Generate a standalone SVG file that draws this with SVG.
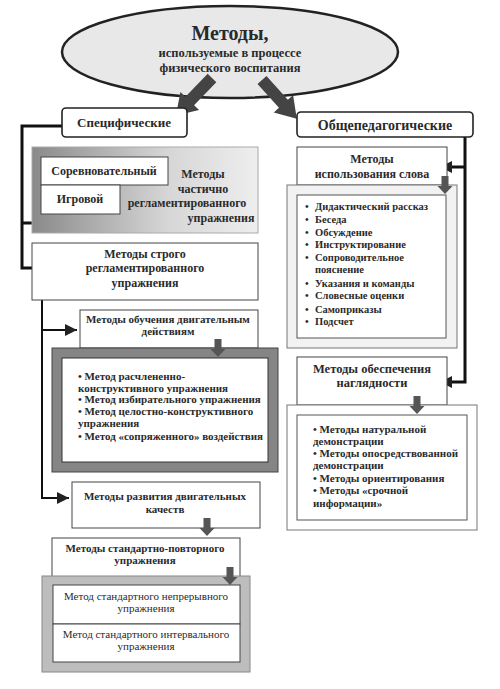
<svg xmlns="http://www.w3.org/2000/svg" width="500" height="689" viewBox="0 0 500 689">
<defs>
<style>
text{font-family:'Liberation Serif','DejaVu Serif',serif;font-weight:bold;fill:#2a2a2a}
.c{text-anchor:middle}
.n{font-weight:normal}
.box{fill:#fff;stroke:#444;stroke-width:1}
.rbox{fill:#fff;stroke:#222;stroke-width:1.6}
.line{fill:none;stroke:#111;stroke-width:3}
.big{fill:#444}
.small{fill:#555}
</style>
<linearGradient id="g1" x1="0" y1="0" x2="1" y2="0">
<stop offset="0" stop-color="#8a8a8a"/>
<stop offset="0.6" stop-color="#d6d6d6"/>
<stop offset="1" stop-color="#eeeeee"/>
</linearGradient>
<marker id="ah" viewBox="0 0 10 10" refX="10" refY="5" markerWidth="13" markerHeight="12" markerUnits="userSpaceOnUse" orient="auto">
<path d="M0,0 L10,5 L0,10 Z" fill="#222"/>
</marker>
<path id="bigArrow" d="M0,-6 L32,-6 L32,-13 L52,0 L32,13 L32,6 L0,6 Z"/>
<path id="downArrow" d="M-3.5,0 L3.5,0 L3.5,10 L7.5,10 L0,18 L-7.5,10 L-3.5,10 Z"/>
</defs>

<g id="connectors">
<polyline class="line" points="62,126 22,126 22,268 57,268" marker-end="url(#ah)"/>
<line class="line" x1="22" y1="223" x2="57" y2="223" marker-end="url(#ah)"/>
<polyline class="line" points="42,300 42,498 69,498" marker-end="url(#ah)" style="stroke-width:2"/>
<line class="line" x1="42" y1="330" x2="77" y2="330" marker-end="url(#ah)" style="stroke-width:2"/>
<polyline class="line" points="465,137 465,382 440,382" marker-end="url(#ah)"/>
<line class="line" x1="465" y1="167" x2="440" y2="167" marker-end="url(#ah)"/>
</g>

<g id="root">
<ellipse cx="230" cy="52" rx="168" ry="46" fill="#e8e8e8" stroke="#222" stroke-width="2.5"/>
<text class="c" x="230" y="40" font-size="20">Методы,</text>
<text class="c" x="230" y="57" font-size="12.5">используемые в процессе</text>
<text class="c" x="230" y="72" font-size="12.5">физического воспитания</text>
</g>

<g id="bigArrows">
<use href="#bigArrow" class="big" transform="translate(212,78) rotate(134)"/>
<use href="#bigArrow" class="big" transform="translate(262,80) rotate(48)"/>
</g>

<g id="specific">
<rect class="rbox" x="62" y="108" width="125" height="29" rx="4"/>
<text class="c" x="124" y="127" font-size="13">Специфические</text>
</g>

<g id="general">
<rect class="rbox" x="297" y="112" width="176" height="25" rx="4"/>
<text class="c" x="385" y="130" font-size="14">Общепедагогические</text>
</g>

<g id="partial">
<rect x="32" y="147" width="226" height="86" fill="url(#g1)" stroke="#aaa" stroke-width="1"/>
<rect class="box" x="41" y="157" width="127" height="28"/>
<text class="c" x="104" y="175" font-size="12">Соревновательный</text>
<rect class="box" x="41" y="185" width="79" height="29"/>
<text class="c" x="80" y="203" font-size="12">Игровой</text>
<text class="c" x="203" y="178" font-size="12">Методы</text>
<text class="c" x="203" y="193" font-size="12">частично</text>
<text class="c" x="187" y="207" font-size="12">регламентированного</text>
<text class="c" x="221" y="222" font-size="12">упражнения</text>
</g>

<g id="strict">
<rect class="box" x="32" y="243" width="226" height="57"/>
<text class="c" x="145" y="258" font-size="12">Методы строго</text>
<text class="c" x="145" y="272" font-size="12">регламентированного</text>
<text class="c" x="145" y="287" font-size="12">упражнения</text>
</g>

<g id="teaching">
<rect class="box" x="80" y="310" width="178" height="38"/>
<text class="c" x="168" y="323" font-size="11">Методы обучения двигательным</text>
<text class="c" x="168" y="335" font-size="11">действиям</text>
</g>

<g id="teachingList">
<rect x="52" y="348" width="226" height="124" fill="#858585" stroke="#444" stroke-width="1"/>
<rect x="62" y="358" width="206" height="104" fill="#fff" stroke="#333" stroke-width="1"/>
<text x="78" y="380" font-size="11">• Метод расчлененно-</text>
<text x="78" y="392" font-size="11">конструктивного упражнения</text>
<text x="78" y="403" font-size="11">• Метод избирательного упражнения</text>
<text x="78" y="415" font-size="11">• Метод целостно-конструктивного</text>
<text x="78" y="427" font-size="11">упражнения</text>
<text x="78" y="440" font-size="11">• Метод «сопряженного» воздействия</text>
</g>

<g id="qualities">
<rect class="box" x="72" y="482" width="188" height="46"/>
<text class="c" x="165" y="500" font-size="11">Методы развития двигательных</text>
<text class="c" x="165" y="513" font-size="11">качеств</text>
</g>

<g id="standard">
<rect class="box" x="52" y="538" width="188" height="39"/>
<text class="c" x="145" y="552" font-size="11">Методы стандартно-повторного</text>
<text class="c" x="145" y="564" font-size="11">упражнения</text>
</g>

<g id="standardList">
<rect x="42" y="576" width="208" height="96" fill="#bdbdbd" stroke="#888" stroke-width="1"/>
<rect class="box" x="53" y="585" width="187" height="39"/>
<text class="c n" x="146" y="600" font-size="11">Метод стандартного непрерывного</text>
<text class="c n" x="146" y="612" font-size="11">упражнения</text>
<rect class="box" x="53" y="624" width="187" height="38"/>
<text class="c n" x="146" y="638" font-size="11">Метод стандартного интервального</text>
<text class="c n" x="146" y="650" font-size="11">упражнения</text>
</g>

<g id="word">
<rect class="box" x="297" y="147" width="150" height="38"/>
<text class="c" x="372" y="163" font-size="12">Методы</text>
<text class="c" x="372" y="178" font-size="12">использования слова</text>
</g>

<g id="wordList">
<rect x="287" y="185" width="170" height="163" fill="#f2f2f2" stroke="#777" stroke-width="1"/>
<rect x="297" y="195" width="149" height="143" fill="#fff" stroke="#555" stroke-width="1"/>
<g font-size="10.5">
<text x="305" y="210">•</text><text x="315" y="210" font-size="10.5">Дидактический рассказ</text>
<text x="305" y="223">•</text><text x="315" y="223" font-size="10.5">Беседа</text>
<text x="305" y="236">•</text><text x="315" y="236" font-size="10.5">Обсуждение</text>
<text x="305" y="248">•</text><text x="315" y="248" font-size="10.5">Инструктирование</text>
<text x="305" y="261">•</text><text x="315" y="261" font-size="10.5">Сопроводительное</text>
<text x="315" y="273" font-size="10.5">пояснение</text>
<text x="305" y="287">•</text><text x="315" y="287" font-size="10.5">Указания и команды</text>
<text x="305" y="299">•</text><text x="315" y="299" font-size="10.5">Словесные оценки</text>
<text x="305" y="313">•</text><text x="315" y="313" font-size="10.5">Самоприказы</text>
<text x="305" y="325">•</text><text x="315" y="325" font-size="10.5">Подсчет</text>
</g>
</g>

<g id="visual">
<rect class="box" x="297" y="357" width="150" height="48"/>
<text class="c" x="372" y="373" font-size="12.5">Методы обеспечения</text>
<text class="c" x="372" y="387" font-size="12.5">наглядности</text>
</g>

<g id="visualList">
<rect x="287" y="405" width="190" height="125" fill="#fff" stroke="#777" stroke-width="1"/>
<rect x="297" y="415" width="170" height="105" fill="#fff" stroke="#555" stroke-width="1"/>
<text x="313" y="433" font-size="11">• Методы натуральной</text>
<text x="313" y="445" font-size="11">демонстрации</text>
<text x="313" y="457" font-size="11">• Методы опосредствованной</text>
<text x="313" y="469" font-size="11">демонстрации</text>
<text x="313" y="482" font-size="11">• Методы ориентирования</text>
<text x="313" y="494" font-size="11">• Методы «срочной</text>
<text x="313" y="507" font-size="11">информации»</text>
</g>

<g id="downArrows">
<use href="#downArrow" class="small" transform="translate(445,176)"/>
<use href="#downArrow" class="small" transform="translate(218,339)"/>
<use href="#downArrow" class="small" transform="translate(207,518)"/>
<use href="#downArrow" class="small" transform="translate(230,567)"/>
<use href="#downArrow" class="small" transform="translate(417,396)"/>
</g>
</svg>
